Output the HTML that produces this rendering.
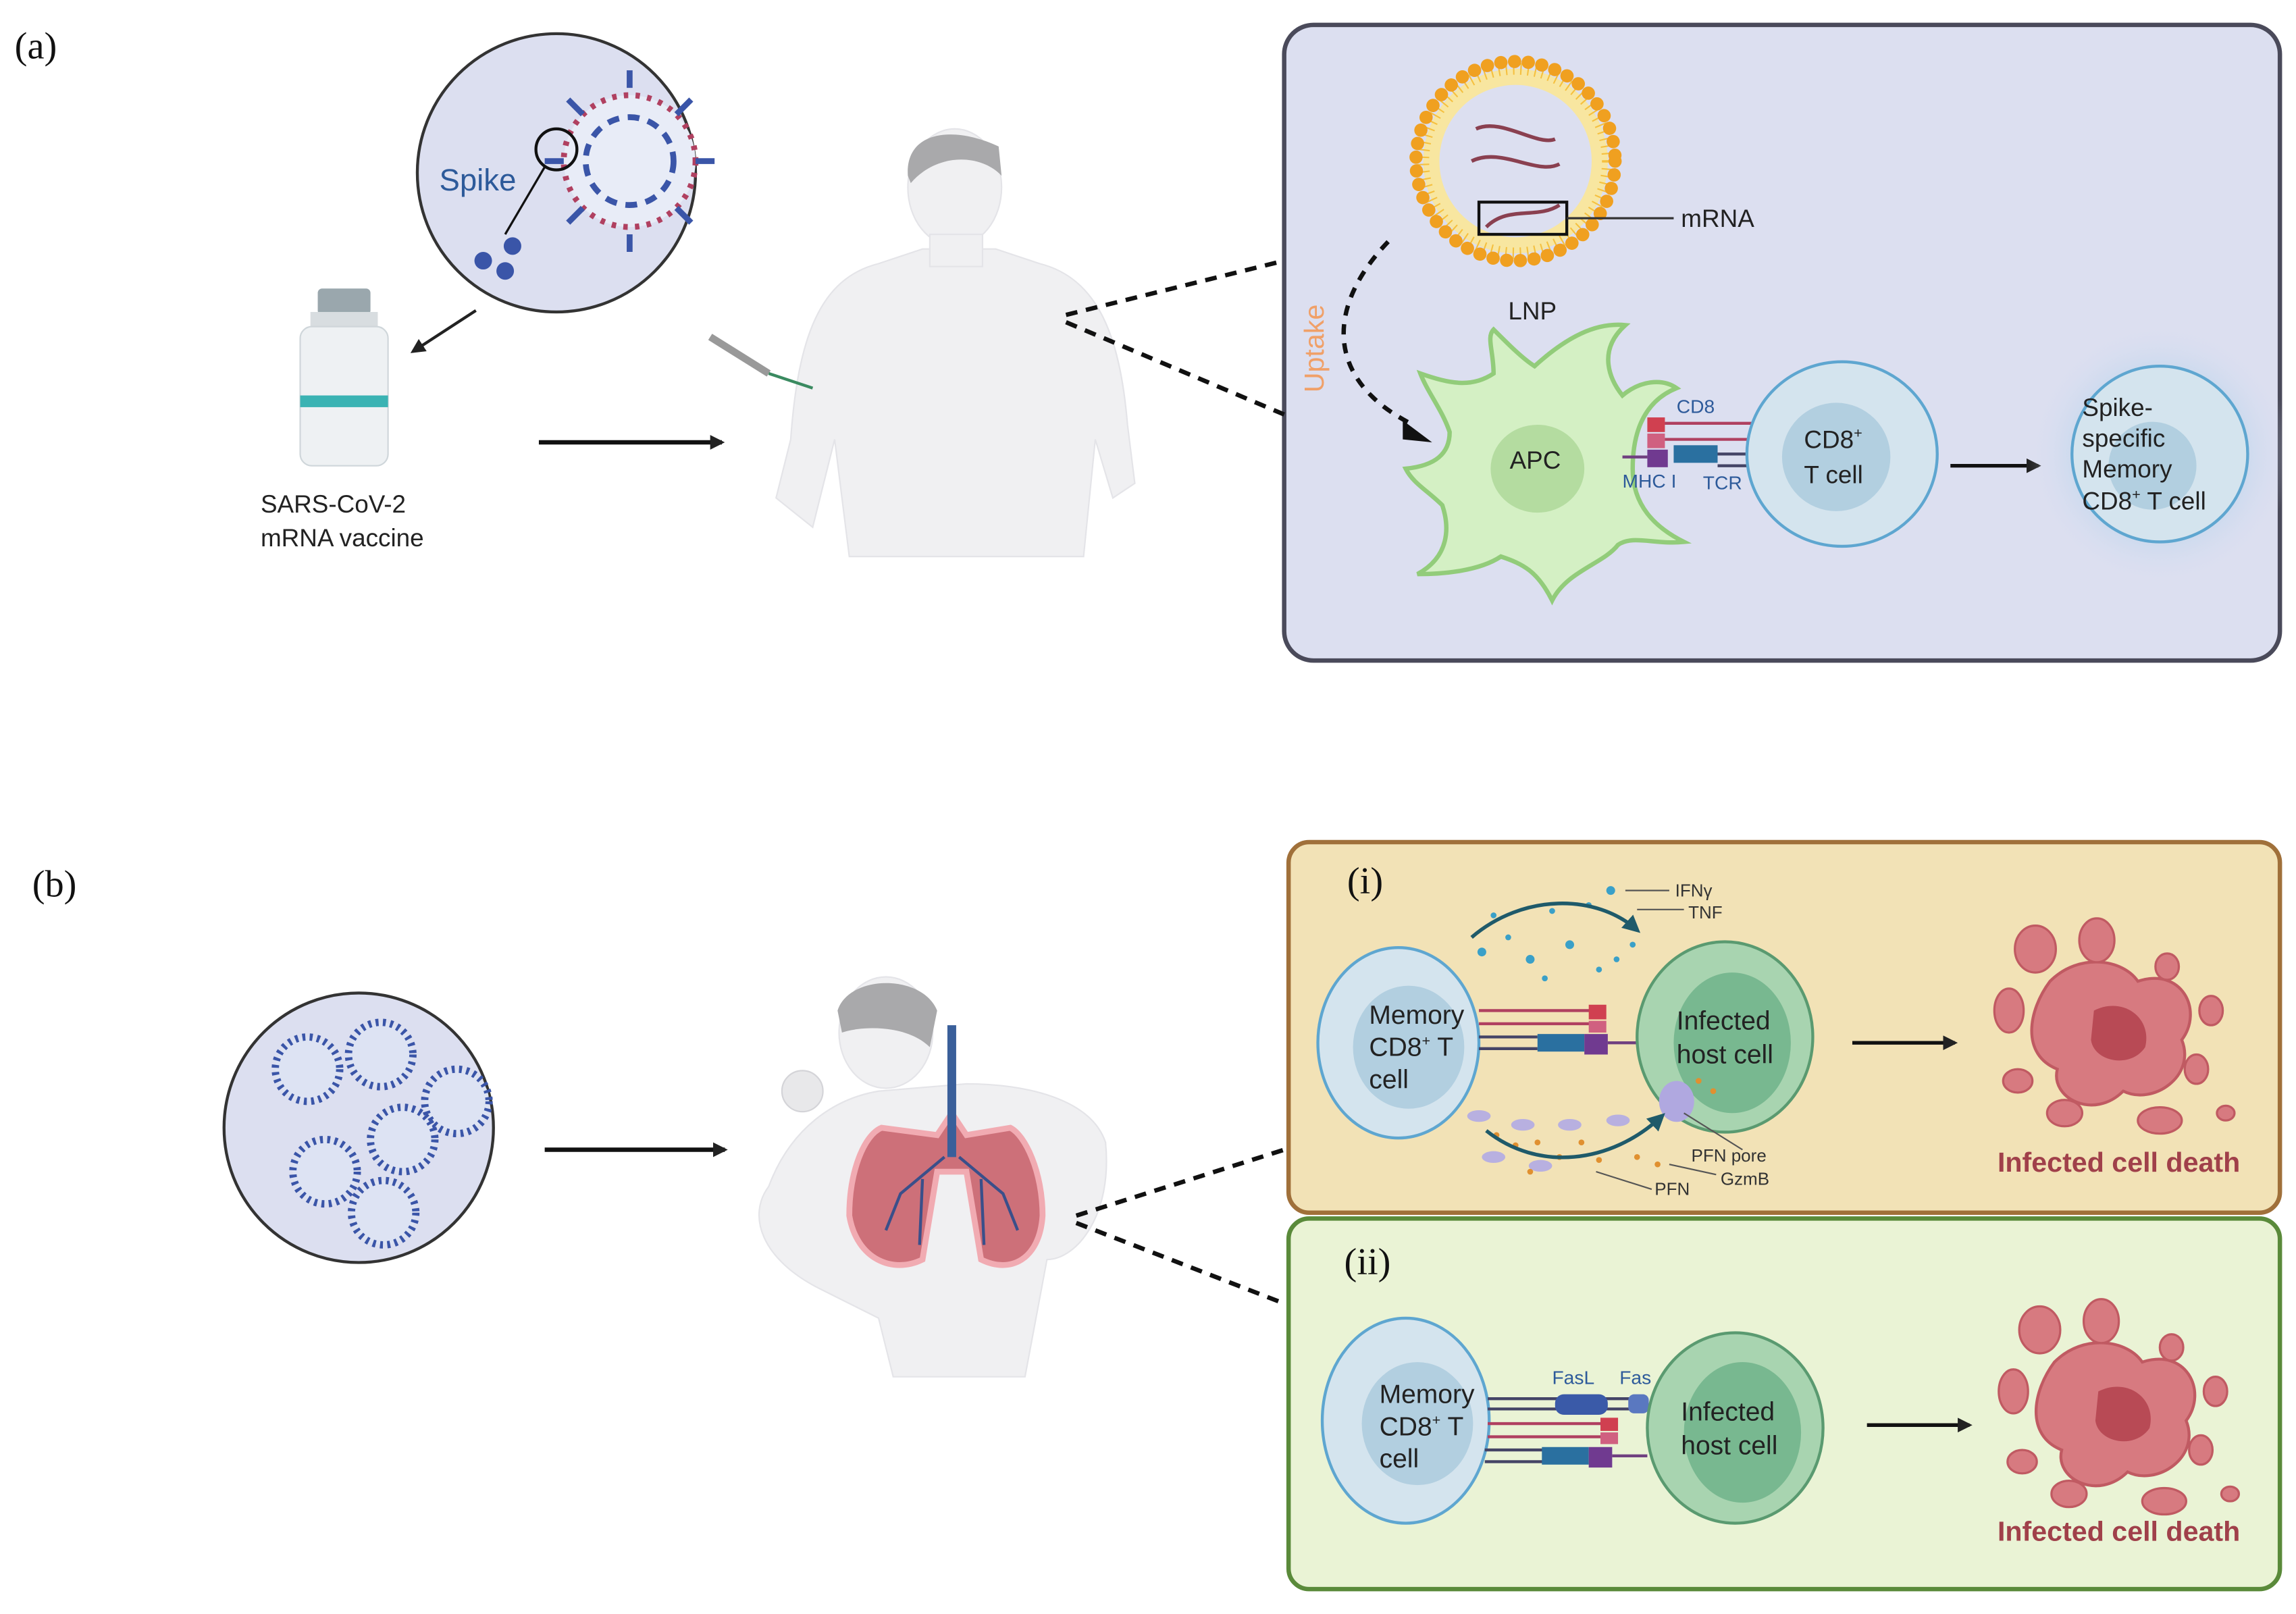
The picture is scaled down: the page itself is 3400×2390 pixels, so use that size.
<!DOCTYPE html>
<html><head><meta charset="utf-8"><style>
html,body{margin:0;padding:0;background:#fff}
svg{display:block}
text{font-family:"Liberation Sans",sans-serif}
.s{font-family:"Liberation Serif",serif}
</style></head><body>
<svg width="3400" height="2390" viewBox="0 0 1568 1102" preserveAspectRatio="none" xmlns="http://www.w3.org/2000/svg">
<defs>
<marker id="ah" markerWidth="10" markerHeight="10" refX="8" refY="5" orient="auto" markerUnits="userSpaceOnUse"><path d="M0,0 L10,5 L0,10 z" fill="#222"/></marker>
<marker id="ab" markerWidth="12" markerHeight="12" refX="9" refY="6" orient="auto" markerUnits="userSpaceOnUse"><path d="M0,0 L12,6 L0,12 z" fill="#1f5a6a"/></marker>
<radialGradient id="glow"><stop offset="0.6" stop-color="#b9d4ec"/><stop offset="1" stop-color="#dcdff0" stop-opacity="0"/></radialGradient>
</defs>
<rect width="1568" height="1102" fill="#fff"/>
<text x="10" y="40" class="s" font-size="26" fill="#111">(a)</text>
<text x="22" y="612" class="s" font-size="26" fill="#111">(b)</text>

<rect x="877" y="17" width="680" height="434" rx="20" fill="#dcdff0" stroke="#4a4a5a" stroke-width="3"/>

<circle cx="380" cy="118" r="95" fill="#dcdff0" stroke="#333" stroke-width="2"/>
<text x="300" y="130" font-size="21" fill="#2d5a9a">Spike</text>
<circle cx="430" cy="110" r="45" fill="#e8ecf7" stroke="#b04060" stroke-width="4" stroke-dasharray="3 5"/>
<circle cx="430" cy="110" r="30" fill="none" stroke="#3a55a8" stroke-width="4" stroke-dasharray="8 6"/>
<g stroke="#3a55a8" stroke-width="4">
<line x1="430" y1="60" x2="430" y2="48"/><line x1="475" y1="110" x2="488" y2="110"/><line x1="430" y1="160" x2="430" y2="172"/><line x1="385" y1="110" x2="372" y2="110"/>
<line x1="462" y1="78" x2="472" y2="68"/><line x1="462" y1="142" x2="472" y2="152"/><line x1="398" y1="142" x2="388" y2="152"/><line x1="398" y1="78" x2="388" y2="68"/>
</g>
<circle cx="380" cy="102" r="14" fill="none" stroke="#111" stroke-width="2"/>
<line x1="372" y1="114" x2="345" y2="160" stroke="#111" stroke-width="1.5"/>
<g fill="#3a55a8"><circle cx="330" cy="178" r="6"/><circle cx="345" cy="185" r="6"/><circle cx="350" cy="168" r="6"/></g>
<line x1="325" y1="212" x2="282" y2="240" stroke="#222" stroke-width="2" marker-end="url(#ah)"/>

<rect x="217" y="197" width="36" height="18" rx="3" fill="#9aa7ad"/>
<rect x="212" y="213" width="46" height="10" fill="#d8dde0"/>
<rect x="205" y="223" width="60" height="95" rx="8" fill="#eef1f3" stroke="#cfd6da"/>
<rect x="205" y="270" width="60" height="8" fill="#3ab3b3"/>
<text x="178" y="350" font-size="17" fill="#222">SARS-CoV-2</text>
<text x="178" y="373" font-size="17" fill="#222">mRNA vaccine</text>
<line x1="368" y1="302" x2="493" y2="302" stroke="#111" stroke-width="3" marker-end="url(#ah)"/>

<g fill="#f0f0f2" stroke="#e4e4e8">
<path d="M600,180 C560,190 545,230 540,300 L530,340 L555,360 L570,300 L580,380 L740,380 L748,300 L760,340 L775,330 L770,290 C765,230 750,190 710,180 L680,170 L630,170 Z"/>
<ellipse cx="652" cy="128" rx="32" ry="40"/>
<rect x="635" y="160" width="36" height="22"/>
</g>
<path d="M620,120 C618,90 650,85 682,100 L684,120 C670,105 640,104 622,125 Z" fill="#a9a9ab"/>
<line x1="485" y1="230" x2="525" y2="255" stroke="#999" stroke-width="5"/>
<line x1="525" y1="255" x2="555" y2="265" stroke="#3a8a60" stroke-width="2"/>

<line x1="728" y1="215" x2="877" y2="178" stroke="#111" stroke-width="3" stroke-dasharray="8 6"/>
<line x1="728" y1="220" x2="877" y2="283" stroke="#111" stroke-width="3" stroke-dasharray="8 6"/>

<circle cx="1035" cy="110" r="63" fill="#f8e6a0" stroke="#f5c040" stroke-width="8" stroke-dasharray="1 4"/>
<circle cx="1035" cy="110" r="52" fill="#dcdff0"/>
<circle cx="1035" cy="110" r="68" fill="none" stroke="#f0a020" stroke-width="9" stroke-dasharray="0.1 9.3" stroke-linecap="round"/>
<g fill="none" stroke="#8a4050" stroke-width="2.5">
<path d="M1008,88 C1025,80 1050,100 1062,95"/><path d="M1005,110 C1025,100 1050,120 1065,112"/><path d="M1015,155 C1030,140 1050,150 1065,140"/>
</g>
<rect x="1010" y="138" width="60" height="22" fill="none" stroke="#111" stroke-width="2"/>
<line x1="1070" y1="149" x2="1143" y2="149" stroke="#333" stroke-width="1.5"/>
<text x="1148" y="155" font-size="17" fill="#222">mRNA</text>
<text x="1030" y="218" font-size="17" fill="#222">LNP</text>
<text transform="translate(904,268) rotate(-90)" font-size="19" fill="#f0a068">Uptake</text>
<path d="M948,165 C905,210 905,260 965,290" fill="none" stroke="#111" stroke-width="3" stroke-dasharray="7 6"/>
<path d="M958,287 L978,302 L958,300 Z" fill="#111"/>

<g fill="#d4f0c4" stroke="#92cc7a" stroke-width="3">
<path d="M1048,250 C1070,230 1090,220 1110,222 C1090,240 1100,260 1108,270 C1120,260 1135,258 1145,265 C1120,275 1115,300 1115,320 C1115,345 1130,360 1150,370 C1130,372 1115,365 1105,372 C1095,385 1070,390 1060,410 C1050,390 1040,385 1025,380 C1010,390 985,392 968,392 C990,380 990,360 985,345 C975,335 965,330 960,320 C980,318 990,310 990,295 C985,280 975,268 970,255 C990,262 1005,265 1020,255 C1020,240 1015,230 1020,225 C1030,235 1040,245 1048,250 Z"/>
</g>
<ellipse cx="1050" cy="320" rx="32" ry="30" fill="#b4dca0"/>
<text x="1031" y="320" font-size="17" fill="#222">APC</text>
<g>
<rect x="1125" y="285" width="12" height="10" fill="#d04050"/><rect x="1125" y="296" width="12" height="10" fill="#d06080"/>
<rect x="1125" y="307" width="14" height="12" fill="#703a90"/><rect x="1143" y="304" width="30" height="12" fill="#2a70a0"/>
<line x1="1137" y1="289" x2="1198" y2="289" stroke="#b04060" stroke-width="2"/><line x1="1137" y1="300" x2="1198" y2="300" stroke="#b04060" stroke-width="2"/>
<line x1="1173" y1="310" x2="1198" y2="310" stroke="#446" stroke-width="2"/><line x1="1173" y1="318" x2="1198" y2="318" stroke="#446" stroke-width="2"/>
<line x1="1108" y1="312" x2="1125" y2="312" stroke="#704080" stroke-width="2"/>
</g>
<text x="1145" y="282" font-size="13" fill="#2d5a9a">CD8</text>
<text x="1108" y="333" font-size="13" fill="#2d5a9a">MHC I</text>
<text x="1163" y="334" font-size="13" fill="#2d5a9a">TCR</text>
<ellipse cx="1258" cy="310" rx="65" ry="63" fill="#d4e4ee" stroke="#5ea6d0" stroke-width="2"/>
<circle cx="1254" cy="312" r="37" fill="#b2cfe0"/>
<text x="1232" y="306" font-size="17" fill="#222">CD8<tspan font-size="10" dy="-7">+</tspan></text>
<text x="1232" y="330" font-size="17" fill="#222">T cell</text>
<line x1="1332" y1="318" x2="1392" y2="318" stroke="#111" stroke-width="2.5" marker-end="url(#ah)"/>
<circle cx="1475" cy="310" r="90" fill="url(#glow)" opacity="0.6"/>
<circle cx="1475" cy="310" r="60" fill="#d4e4ee" stroke="#5ea6d0" stroke-width="2"/>
<circle cx="1470" cy="318" r="30" fill="#b2cfe0"/>
<g font-size="17" fill="#222"><text x="1422" y="284">Spike-</text><text x="1422" y="305">specific</text><text x="1422" y="326">Memory</text><text x="1422" y="348">CD8<tspan font-size="10" dy="-7">+</tspan><tspan dy="7"> T cell</tspan></text></g>

<circle cx="245" cy="770" r="92" fill="#dcdff0" stroke="#333" stroke-width="2"/>
<g fill="#dde3f3" stroke="#3a55a8" stroke-width="5" stroke-dasharray="2 3">
<circle cx="210" cy="730" r="22"/><circle cx="260" cy="720" r="22"/><circle cx="312" cy="752" r="22"/><circle cx="275" cy="778" r="22"/><circle cx="222" cy="800" r="22"/><circle cx="262" cy="828" r="22"/>
</g>
<line x1="372" y1="785" x2="495" y2="785" stroke="#111" stroke-width="3" marker-end="url(#ah)"/>
<g fill="#f0f0f2" stroke="#e4e4e8">
<path d="M600,745 C570,750 540,770 525,810 C510,830 520,860 560,880 L600,900 L610,940 L700,940 L715,860 C735,860 760,830 755,780 C745,750 700,740 660,740 Z"/>
<ellipse cx="605" cy="705" rx="32" ry="38"/>
</g>
<path d="M572,690 C580,665 630,665 640,690 L635,715 C620,700 590,700 575,705 Z" fill="#a9a9ab"/>
<circle cx="548" cy="745" r="14" fill="#e8e8ea" stroke="#d4d4d8"/>
<path d="M602,770 C590,775 580,800 580,830 C585,860 610,870 630,860 L640,800 L660,800 L670,860 C690,870 710,860 712,830 C712,800 700,775 690,770 L660,775 L650,760 L640,775 Z" fill="#c85a65" stroke="#f2a0a8" stroke-width="4" opacity="0.85"/>
<line x1="650" y1="700" x2="650" y2="790" stroke="#3a5f9a" stroke-width="6"/>
<g stroke="#3a4f8a" stroke-width="2" fill="none"><path d="M645,790 L615,815 L605,840"/><path d="M655,790 L685,815 L695,840"/><path d="M630,805 L628,850"/><path d="M670,805 L672,850"/></g>
<line x1="735" y1="830" x2="877" y2="785" stroke="#111" stroke-width="3" stroke-dasharray="8 6"/>
<line x1="735" y1="835" x2="877" y2="890" stroke="#111" stroke-width="3" stroke-dasharray="8 6"/>

<rect x="880" y="575" width="677" height="253" rx="14" fill="#f2e2b6" stroke="#a0703a" stroke-width="3"/>
<text x="920" y="610" class="s" font-size="26" fill="#111">(i)</text>
<g fill="#3aa0c8">
<circle cx="1012" cy="650" r="3"/><circle cx="1030" cy="640" r="2"/><circle cx="1045" cy="655" r="3"/><circle cx="1060" cy="622" r="2"/><circle cx="1072" cy="645" r="3"/><circle cx="1085" cy="618" r="2"/><circle cx="1100" cy="608" r="3"/><circle cx="1104" cy="655" r="2"/><circle cx="1115" cy="645" r="2"/><circle cx="1020" cy="625" r="2"/><circle cx="1092" cy="662" r="2"/><circle cx="1055" cy="668" r="2"/>
</g>
<path d="M1005,640 C1040,610 1090,610 1118,635" fill="none" stroke="#1f5a6a" stroke-width="2.5" marker-end="url(#ab)"/>
<line x1="1110" y1="608" x2="1140" y2="608" stroke="#555"/><line x1="1118" y1="621" x2="1150" y2="621" stroke="#555"/>
<text x="1144" y="612" font-size="12" fill="#333">IFNγ</text><text x="1153" y="627" font-size="12" fill="#333">TNF</text>
<ellipse cx="955" cy="712" rx="55" ry="65" fill="#d4e4ee" stroke="#5ea6d0" stroke-width="2"/>
<ellipse cx="962" cy="715" rx="38" ry="42" fill="#b2cfe0"/>
<g font-size="18" fill="#222"><text x="935" y="699">Memory</text><text x="935" y="721">CD8<tspan font-size="10" dy="-7">+</tspan><tspan dy="7"> T</tspan></text><text x="935" y="743">cell</text></g>
<g>
<line x1="1010" y1="690" x2="1088" y2="690" stroke="#b04060" stroke-width="2"/><line x1="1010" y1="699" x2="1088" y2="699" stroke="#b04060" stroke-width="2"/>
<line x1="1010" y1="708" x2="1050" y2="708" stroke="#446" stroke-width="2"/><line x1="1010" y1="716" x2="1050" y2="716" stroke="#446" stroke-width="2"/>
<rect x="1085" y="686" width="12" height="10" fill="#d04050"/><rect x="1085" y="697" width="12" height="8" fill="#d06080"/>
<rect x="1050" y="706" width="32" height="12" fill="#2a70a0"/><rect x="1082" y="706" width="16" height="14" fill="#703a90"/>
<line x1="1098" y1="712" x2="1118" y2="712" stroke="#704080" stroke-width="2"/>
</g>
<ellipse cx="1178" cy="708" rx="60" ry="65" fill="#a8d4b0" stroke="#5a9a70" stroke-width="2"/>
<ellipse cx="1183" cy="712" rx="40" ry="48" fill="#78b890"/>
<g font-size="18" fill="#222"><text x="1145" y="703">Infected</text><text x="1145" y="726">host cell</text></g>
<g fill="#b8b0e0"><ellipse cx="1010" cy="762" rx="8" ry="4"/><ellipse cx="1040" cy="768" rx="8" ry="4"/><ellipse cx="1072" cy="768" rx="8" ry="4"/><ellipse cx="1105" cy="765" rx="8" ry="4"/><ellipse cx="1020" cy="790" rx="8" ry="4"/><ellipse cx="1052" cy="796" rx="8" ry="4"/><ellipse cx="1145" cy="752" rx="12" ry="14" fill="#b0a8e0"/></g>
<g fill="#e09030"><circle cx="1022" cy="775" r="2"/><circle cx="1035" cy="782" r="2"/><circle cx="1050" cy="780" r="2"/><circle cx="1065" cy="790" r="2"/><circle cx="1080" cy="780" r="2"/><circle cx="1092" cy="792" r="2"/><circle cx="1118" cy="790" r="2"/><circle cx="1160" cy="738" r="2"/><circle cx="1170" cy="745" r="2"/><circle cx="1132" cy="795" r="2"/><circle cx="1045" cy="800" r="2"/></g>
<path d="M1015,772 C1050,800 1100,795 1135,762" fill="none" stroke="#1f5a6a" stroke-width="2.5" marker-end="url(#ab)"/>
<line x1="1150" y1="760" x2="1190" y2="785" stroke="#555"/><line x1="1140" y1="795" x2="1172" y2="802" stroke="#555"/><line x1="1090" y1="800" x2="1128" y2="812" stroke="#555"/>
<text x="1155" y="793" font-size="12" fill="#333">PFN pore</text><text x="1175" y="809" font-size="12" fill="#333">GzmB</text><text x="1130" y="816" font-size="12" fill="#333">PFN</text>
<line x1="1265" y1="712" x2="1335" y2="712" stroke="#111" stroke-width="2.5" marker-end="url(#ah)"/>
<g id="dead">
<path d="M1400,670 C1420,650 1450,655 1460,670 C1490,660 1505,690 1490,710 C1500,735 1470,755 1450,745 C1430,765 1400,750 1405,730 C1380,720 1385,690 1400,670 Z" fill="#d77a80" stroke="#c05a62" stroke-width="2"/>
<path d="M1430,690 C1450,680 1470,695 1465,715 C1455,730 1430,725 1428,710 Z" fill="#b84a55"/>
<g fill="#d77a80" stroke="#c05a62" stroke-width="1.5">
<ellipse cx="1390" cy="648" rx="14" ry="16"/><ellipse cx="1432" cy="642" rx="12" ry="15"/><ellipse cx="1480" cy="660" rx="8" ry="9"/><ellipse cx="1510" cy="690" rx="8" ry="10"/><ellipse cx="1372" cy="690" rx="10" ry="15"/><ellipse cx="1378" cy="738" rx="10" ry="8"/><ellipse cx="1410" cy="760" rx="12" ry="9"/><ellipse cx="1475" cy="765" rx="15" ry="9"/><ellipse cx="1500" cy="730" rx="8" ry="10"/><ellipse cx="1520" cy="760" rx="6" ry="5"/>
</g>
</g>
<text x="1447" y="800" text-anchor="middle" font-size="19" font-weight="bold" fill="#a0404a">Infected cell death</text>

<rect x="880" y="832" width="677" height="253" rx="14" fill="#eaf3d5" stroke="#5a8a3a" stroke-width="3"/>
<text x="918" y="870" class="s" font-size="26" fill="#111">(ii)</text>
<ellipse cx="960" cy="970" rx="57" ry="70" fill="#d4e4ee" stroke="#5ea6d0" stroke-width="2"/>
<ellipse cx="968" cy="972" rx="38" ry="42" fill="#b2cfe0"/>
<g font-size="18" fill="#222"><text x="942" y="958">Memory</text><text x="942" y="980">CD8<tspan font-size="10" dy="-7">+</tspan><tspan dy="7"> T</tspan></text><text x="942" y="1002">cell</text></g>
<g>
<line x1="1016" y1="955" x2="1125" y2="955" stroke="#446" stroke-width="2"/><line x1="1016" y1="962" x2="1125" y2="962" stroke="#446" stroke-width="2"/>
<rect x="1062" y="952" width="36" height="14" rx="6" fill="#3a5aa8"/><rect x="1112" y="952" width="14" height="13" rx="4" fill="#5a78c0"/>
<line x1="1016" y1="972" x2="1100" y2="972" stroke="#b04060" stroke-width="2"/><line x1="1016" y1="981" x2="1100" y2="981" stroke="#b04060" stroke-width="2"/>
<rect x="1093" y="968" width="12" height="9" fill="#d04050"/><rect x="1093" y="978" width="12" height="8" fill="#d06080"/>
<line x1="1014" y1="990" x2="1055" y2="990" stroke="#446" stroke-width="2"/><line x1="1014" y1="998" x2="1055" y2="998" stroke="#446" stroke-width="2"/>
<rect x="1053" y="988" width="32" height="12" fill="#2a70a0"/><rect x="1085" y="988" width="16" height="14" fill="#703a90"/>
<line x1="1101" y1="994" x2="1125" y2="994" stroke="#704080" stroke-width="2"/>
</g>
<text x="1060" y="945" font-size="13" fill="#2d5a9a">FasL</text><text x="1106" y="945" font-size="13" fill="#2d5a9a">Fas</text>
<ellipse cx="1185" cy="975" rx="60" ry="65" fill="#a8d4b0" stroke="#5a9a70" stroke-width="2"/>
<ellipse cx="1190" cy="978" rx="40" ry="48" fill="#78b890"/>
<g font-size="18" fill="#222"><text x="1148" y="970">Infected</text><text x="1148" y="993">host cell</text></g>
<line x1="1275" y1="973" x2="1345" y2="973" stroke="#111" stroke-width="2.5" marker-end="url(#ah)"/>
<use href="#dead" transform="translate(3,260)"/>
<text x="1447" y="1052" text-anchor="middle" font-size="19" font-weight="bold" fill="#a0404a">Infected cell death</text>
</svg>
</body></html>
